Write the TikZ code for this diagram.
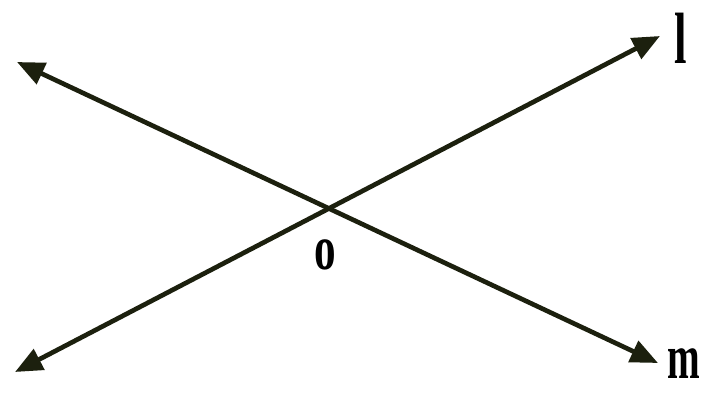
\documentclass[tikz,border=0pt]{standalone}
\usepackage{fontspec}
\setmainfont{Liberation Serif}
\usetikzlibrary{arrows.meta}
\definecolor{linecol}{RGB}{28,32,14}
\tikzset{
  px/.style={x=0.03cm,y=-0.03cm},
  tip/.style={Triangle[length=0.82cm,width=0.68cm]},
  ray/.style={draw=linecol,line width=4pt,{Triangle[length=0.82cm,width=0.68cm]}-{Triangle[length=0.82cm,width=0.68cm]}},
  lbl/.style={inner sep=0pt,font=\fontsize{54}{58}\selectfont\bfseries,xscale=0.62,text=black}
}
\begin{document}
\begin{tikzpicture}[px]
\useasboundingbox (0,0) rectangle (706,394);
\coordinate (lA) at (15,372);
\coordinate (lB) at (660,36);
\coordinate (mA) at (17,62);
\coordinate (mB) at (658,363);
\draw[ray] (lA) -- (lB);
\draw[ray] (mA) -- (mB);
\node[lbl,font=\fontsize{62}{66}\selectfont\bfseries] (l) at (681,38) {l};
\node[lbl] (m) at (684,364) {m};
\node[lbl,xscale=1.1] (o) at (325,255) {o};
\end{tikzpicture}
\end{document}
